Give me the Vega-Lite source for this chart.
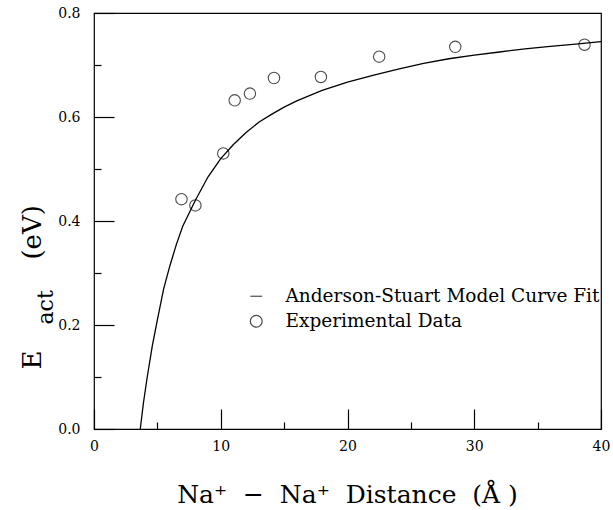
{
  "$schema": "https://vega.github.io/schema/vega-lite/v6.json",
  "width": 507,
  "height": 416,
  "autosize": {"type": "none"},
  "padding": {"left": 94, "top": 13, "right": 12, "bottom": 81},
  "background": "white",
  "config": {
    "view": {"stroke": "black", "strokeWidth": 1.2},
    "font": "DejaVu Serif",
    "axis": {"labelFont": "DejaVu Serif", "titleFont": "DejaVu Serif", "labelColor": "black", "titleColor": "black", "tickColor": "black", "grid": false, "domain": false, "titleFontWeight": "normal"},
    "legend": {"labelFont": "DejaVu Serif", "labelColor": "black"}
  },
  "datasets": {
    "curve": [
      {"x": 3.65, "y": 0.0, "series": "Anderson-Stuart Model Curve Fit"},
      {"x": 3.9, "y": 0.05, "series": "Anderson-Stuart Model Curve Fit"},
      {"x": 4.2, "y": 0.1, "series": "Anderson-Stuart Model Curve Fit"},
      {"x": 4.6, "y": 0.16, "series": "Anderson-Stuart Model Curve Fit"},
      {"x": 5.0, "y": 0.21, "series": "Anderson-Stuart Model Curve Fit"},
      {"x": 5.5, "y": 0.27, "series": "Anderson-Stuart Model Curve Fit"},
      {"x": 6.0, "y": 0.315, "series": "Anderson-Stuart Model Curve Fit"},
      {"x": 6.5, "y": 0.355, "series": "Anderson-Stuart Model Curve Fit"},
      {"x": 7.0, "y": 0.39, "series": "Anderson-Stuart Model Curve Fit"},
      {"x": 7.5, "y": 0.415, "series": "Anderson-Stuart Model Curve Fit"},
      {"x": 8.0, "y": 0.44, "series": "Anderson-Stuart Model Curve Fit"},
      {"x": 9.0, "y": 0.485, "series": "Anderson-Stuart Model Curve Fit"},
      {"x": 10.0, "y": 0.52, "series": "Anderson-Stuart Model Curve Fit"},
      {"x": 11.0, "y": 0.547, "series": "Anderson-Stuart Model Curve Fit"},
      {"x": 12.0, "y": 0.57, "series": "Anderson-Stuart Model Curve Fit"},
      {"x": 13.0, "y": 0.59, "series": "Anderson-Stuart Model Curve Fit"},
      {"x": 14.0, "y": 0.605, "series": "Anderson-Stuart Model Curve Fit"},
      {"x": 15.0, "y": 0.619, "series": "Anderson-Stuart Model Curve Fit"},
      {"x": 16.0, "y": 0.631, "series": "Anderson-Stuart Model Curve Fit"},
      {"x": 18.0, "y": 0.651, "series": "Anderson-Stuart Model Curve Fit"},
      {"x": 20.0, "y": 0.667, "series": "Anderson-Stuart Model Curve Fit"},
      {"x": 22.0, "y": 0.68, "series": "Anderson-Stuart Model Curve Fit"},
      {"x": 24.0, "y": 0.692, "series": "Anderson-Stuart Model Curve Fit"},
      {"x": 26.0, "y": 0.703, "series": "Anderson-Stuart Model Curve Fit"},
      {"x": 28.0, "y": 0.712, "series": "Anderson-Stuart Model Curve Fit"},
      {"x": 30.0, "y": 0.719, "series": "Anderson-Stuart Model Curve Fit"},
      {"x": 32.0, "y": 0.725, "series": "Anderson-Stuart Model Curve Fit"},
      {"x": 34.0, "y": 0.731, "series": "Anderson-Stuart Model Curve Fit"},
      {"x": 36.0, "y": 0.736, "series": "Anderson-Stuart Model Curve Fit"},
      {"x": 38.0, "y": 0.74, "series": "Anderson-Stuart Model Curve Fit"},
      {"x": 40.0, "y": 0.745, "series": "Anderson-Stuart Model Curve Fit"}
    ],
    "points": [
      {"x": 6.9, "y": 0.442, "series": "Experimental Data"},
      {"x": 8.0, "y": 0.43, "series": "Experimental Data"},
      {"x": 10.2, "y": 0.53, "series": "Experimental Data"},
      {"x": 11.1, "y": 0.632, "series": "Experimental Data"},
      {"x": 12.3, "y": 0.645, "series": "Experimental Data"},
      {"x": 14.2, "y": 0.675, "series": "Experimental Data"},
      {"x": 17.9, "y": 0.677, "series": "Experimental Data"},
      {"x": 22.5, "y": 0.716, "series": "Experimental Data"},
      {"x": 28.5, "y": 0.735, "series": "Experimental Data"},
      {"x": 38.7, "y": 0.739, "series": "Experimental Data"}
    ]
  },
  "layer": [
    {
      "data": {"name": "curve"},
      "mark": {"type": "line", "color": "black", "strokeWidth": 1.3, "clip": true},
      "encoding": {
        "x": {"field": "x", "type": "quantitative",
          "scale": {"domain": [0, 40], "nice": false, "zero": false},
          "axis": {"orient": "bottom", "values": [0, 10, 20, 30, 40], "format": "d", "tickSize": -20, "tickWidth": 1.2, "labelPadding": 30, "labelFontSize": 14, "labelFont": "DejaVu Serif", "labelFlush": false,
            "title": "Na⁺ \u00a0−\u00a0 Na⁺ \u00a0Distance \u00a0(Å\u00a0)", "titleFont": "DejaVu Serif", "titleFontSize": 25, "titleX": 253, "titleY": 73, "titleBaseline": "alphabetic", "titleAnchor": null, "titleAlign": "center"}},
        "y": {"field": "y", "type": "quantitative",
          "scale": {"domain": [0, 0.8], "nice": false, "zero": false},
          "axis": {"orient": "left", "values": [0, 0.2, 0.4, 0.6, 0.8], "format": ".1f", "tickSize": -20, "tickWidth": 1.2, "labelPadding": 34, "labelFontSize": 14, "labelFont": "DejaVu Serif", "labelFlush": false,
            "title": "E\u00a0\u00a0\u00a0\u00a0\u00a0\u00a0\u00a0\u00a0\u00a0\u00a0\u00a0(eV)", "titleFont": "DejaVu Serif", "titleFontSize": 26, "titleAngle": 270, "titleX": -54, "titleY": 356, "titleAlign": "left", "titleBaseline": "alphabetic"}}
      }
    },
    {
      "data": {"name": "points"},
      "mark": {"type": "point", "shape": "circle", "filled": false, "color": "black", "strokeWidth": 1.1, "size": 130},
      "encoding": {
        "x": {"field": "x", "type": "quantitative",
          "scale": {"domain": [0, 40], "nice": false, "zero": false},
          "axis": {"orient": "bottom", "values": [5, 15, 25, 35], "tickSize": -7, "tickWidth": 1.2, "labels": false, "title": null}},
        "y": {"field": "y", "type": "quantitative",
          "scale": {"domain": [0, 0.8], "nice": false, "zero": false},
          "axis": {"orient": "left", "values": [0.1, 0.3, 0.5, 0.7], "tickSize": -7, "tickWidth": 1.2, "labels": false,
            "title": "act", "titleFont": "DejaVu Serif", "titleFontSize": 22, "titleAngle": 270, "titleX": -42, "titleY": 311, "titleAlign": "left", "titleBaseline": "alphabetic"}},
        "shape": {"field": "series", "type": "nominal",
          "scale": {"domain": ["Anderson-Stuart Model Curve Fit", "Experimental Data"], "range": ["stroke", "circle"]},
          "legend": {"orient": "none", "legendX": 153, "legendY": 274, "title": null, "padding": 0, "symbolSize": 140, "symbolStrokeColor": "black", "symbolFillColor": "transparent", "symbolStrokeWidth": 1.2, "labelFont": "DejaVu Serif", "labelFontSize": 18.5, "labelOffset": 20, "rowPadding": 6, "labelLimit": 400}}
      }
    }
  ],
  "resolve": {"axis": {"x": "independent", "y": "independent"}}
}
